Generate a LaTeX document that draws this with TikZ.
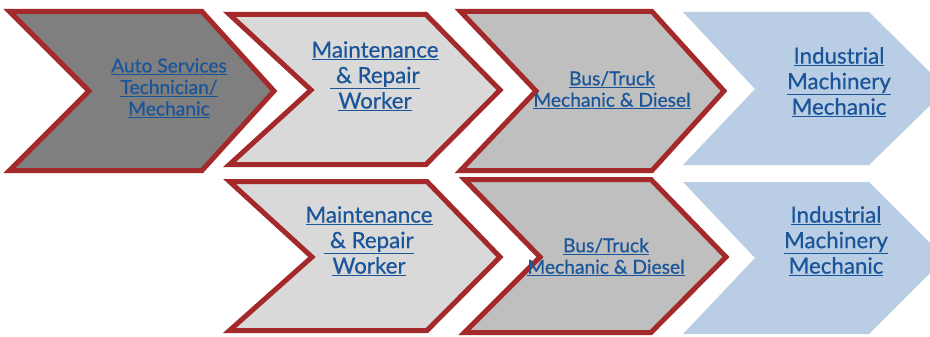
\documentclass[tikz,border=0pt]{standalone}
\usepackage{fontspec}
\setmainfont{Lato}
\newfontfamily\linkfont{Lato}[FakeBold=0.6]
\usepackage{tikz}

\definecolor{chevred}{HTML}{A3292B}
\definecolor{darkfill}{HTML}{7F7F7F}
\definecolor{lightfill}{HTML}{D9D9D9}
\definecolor{midfill}{HTML}{BFBFBF}
\definecolor{bluefill}{HTML}{B9CDE5}
\definecolor{linkblue}{HTML}{1A5599}

\newcommand{\lnk}[1]{\underline{#1}}

\begin{document}
\begin{tikzpicture}[x=1pt, y=-1pt]
    \tikzstyle{red chevron}=[
        draw = chevred,
        line width = 5pt,
        line join = miter
    ]
    \tikzstyle{big label}=[
        text = linkblue,
        align = center,
        font = \linkfont\fontsize{22.3}{25.5}\selectfont
    ]
    \tikzstyle{small label}=[
        text = linkblue,
        align = center,
        font = \linkfont\fontsize{19.2}{21.5}\selectfont
    ]

    \clip (0, 0) rectangle (930, 337);

    % top row
    \path[red chevron, fill = darkfill] (9.5, 11.5) -- (202, 11.5) -- (274, 91)
        -- (202, 170.5) -- (9.5, 170.5) -- (89, 91) -- cycle;
    \path[red chevron, fill = lightfill] (229.5, 14.5) -- (426, 14.5) -- (500, 90)
        -- (426, 164.5) -- (229.5, 164.5) -- (311, 90) -- cycle;
    \path[red chevron, fill = midfill] (460.5, 11.5) -- (652, 11.5) -- (724, 91)
        -- (652, 170.5) -- (460.5, 170.5) -- (536, 91) -- cycle;
    \fill[bluefill] (683, 12) -- (869, 12) -- (947, 89)
        -- (869, 165) -- (683, 165) -- (755, 89) -- cycle;

    % bottom row
    \path[red chevron, fill = lightfill] (229.5, 181.5) -- (427, 181.5) -- (500, 257)
        -- (427, 330.5) -- (229.5, 330.5) -- (312, 257) -- cycle;
    \path[red chevron, fill = midfill] (464.5, 179.5) -- (651, 179.5) -- (726, 257)
        -- (651, 332.5) -- (464.5, 332.5) -- (540, 257) -- cycle;
    \fill[bluefill] (683, 182) -- (869, 182) -- (945, 258)
        -- (869, 334) -- (683, 334) -- (755, 258) -- cycle;

    \node[small label] (auto)   at (169, 88)  {\lnk{Auto Services}\\\lnk{Technician/}\\\lnk{Mechanic}};
    \node[big label]   (maint)  at (375, 76)  {\lnk{Maintenance}\\\lnk{\ \& Repair}\\\lnk{Worker}};
    \node[small label] (bus)    at (612, 90)  {\lnk{Bus/Truck}\\\lnk{Mechanic \& Diesel}};
    \node[big label]   (indus)  at (839, 82)  {\lnk{Industrial}\\\lnk{Machinery}\\\lnk{Mechanic}};
    \node[big label]   (maintb) at (369, 241) {\lnk{Maintenance}\\\lnk{\ \& Repair}\\\lnk{Worker}};
    \node[small label] (busb)   at (606, 257) {\lnk{Bus/Truck}\\\lnk{Mechanic \& Diesel}};
    \node[big label]   (indusb) at (836, 241) {\lnk{Industrial}\\\lnk{Machinery}\\\lnk{Mechanic}};

\end{tikzpicture}
\end{document}
